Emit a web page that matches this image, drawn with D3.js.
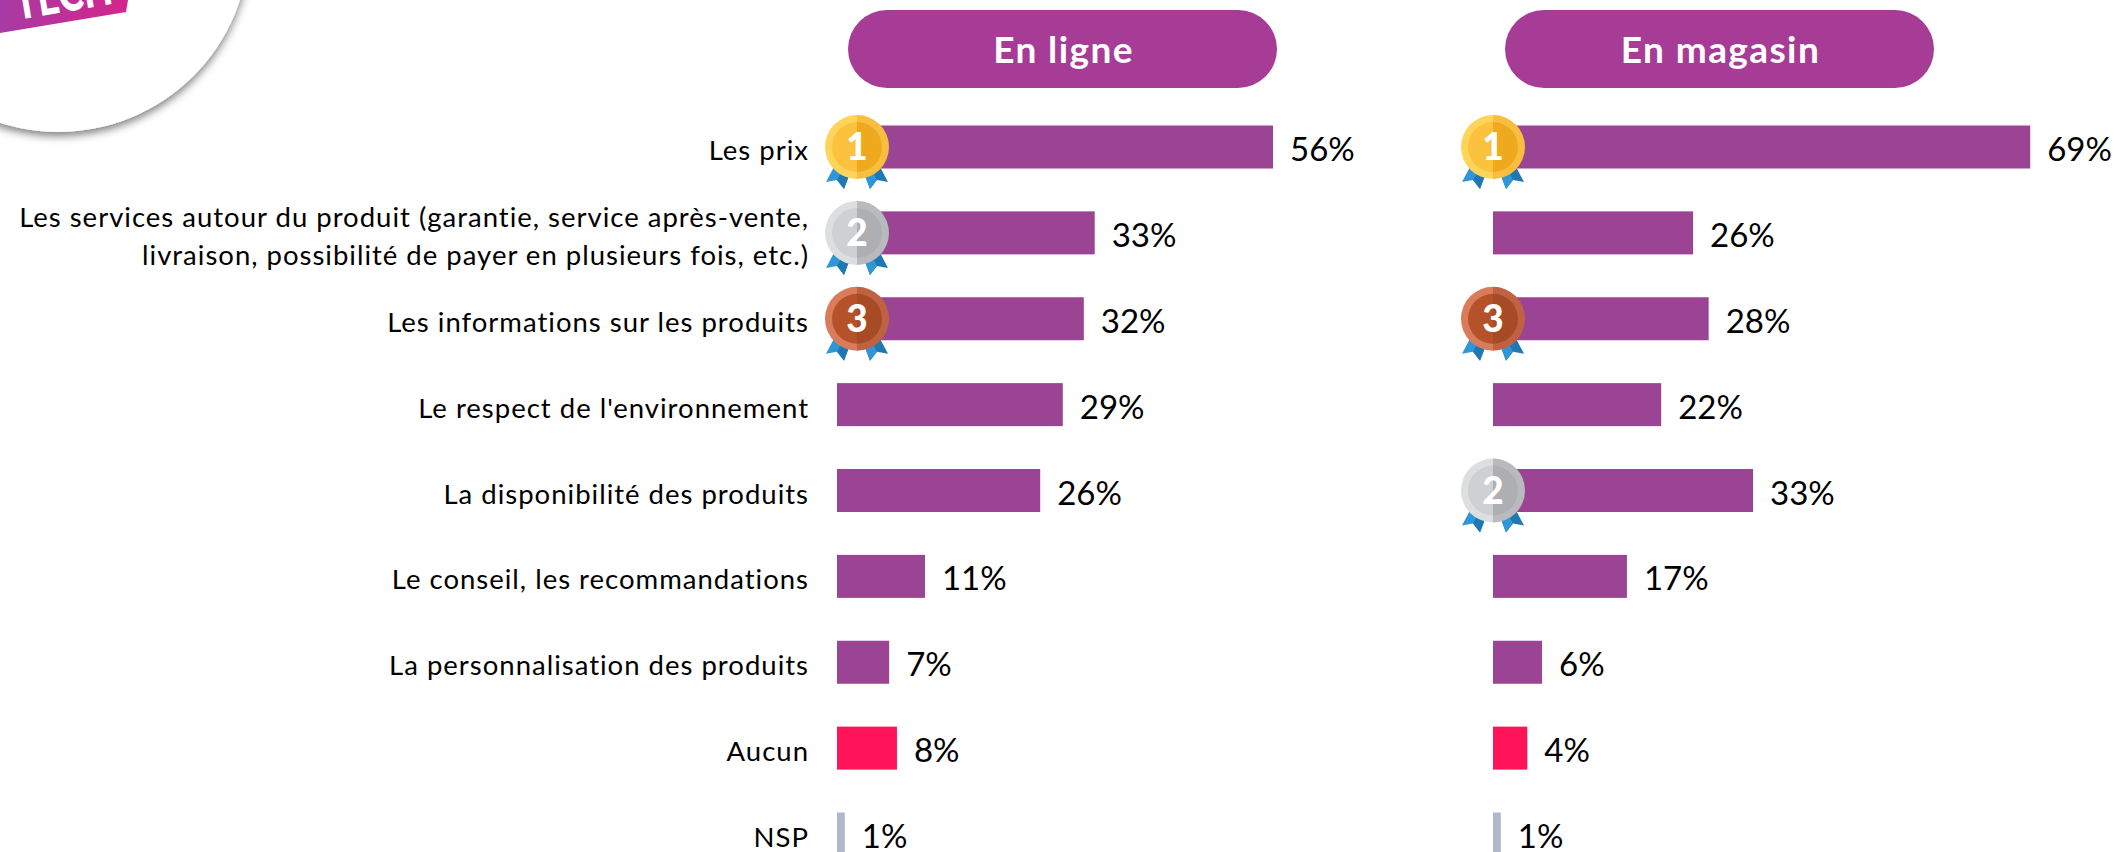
<!DOCTYPE html>
<html><head><meta charset="utf-8">
<script src="https://cdn.jsdelivr.net/npm/d3@7/dist/d3.min.js"></script>
<style>html,body{margin:0;padding:0;background:#fff;overflow:hidden}svg{display:block}text{font-family:Lato,sans-serif}</style>
</head><body><svg id="c" width="2121" height="852"></svg>
<script>
const categories=[["Les prix"],["Les services autour du produit (garantie, service après-vente,","livraison, possibilité de payer en plusieurs fois, etc.)"],["Les informations sur les produits"],["Le respect de l'environnement"],["La disponibilité des produits"],["Le conseil, les recommandations"],["La personnalisation des produits"],["Aucun"],["NSP"]];
const enLigneValues=[56,33.1,31.7,29,26.1,11.3,6.7,7.7,1];
const enLigneLabels=["56%","33%","32%","29%","26%","11%","7%","8%","1%"];
const enMagasinValues=[69,25.7,27.7,21.6,33.4,17.2,6.3,4.4,1];
const enMagasinLabels=["69%","26%","28%","22%","33%","17%","6%","4%","1%"];
const enLigneRanks=[1,2,3,0,0,0,0,0,0];
const enMagasinRanks=[1,0,3,0,2,0,0,0,0];
const barColors=["#9B4494","#9B4494","#9B4494","#9B4494","#9B4494","#9B4494","#9B4494","#FF145A","#ADB9CA"];
const medalColors={1:["#FFD45A","#F9BE3F","#FBC23D","#EFA91E"],2:["#DDDEE0","#B9BABD","#CFD0D2","#AEAFB2"],3:["#D97C5C","#BE6242","#B65229","#A74A26"]};

const svg=d3.select("#c");
const defs=svg.append("defs");
const f=defs.append("filter").attr("id","sh").attr("x","-20%").attr("y","-20%").attr("width","140%").attr("height","140%");
f.append("feDropShadow").attr("dx",0).attr("dy",4).attr("stdDeviation",4).attr("flood-color","#000").attr("flood-opacity",.5);
const g=defs.append("linearGradient").attr("id","lg");
g.append("stop").attr("offset","0").attr("stop-color","#A83AA6");
g.append("stop").attr("offset","1").attr("stop-color","#D5258A");

// logo
svg.append("circle").attr("cx",58).attr("cy",-59.5).attr("r",191.5).attr("fill","#fff").attr("filter","url(#sh)");
svg.append("path").attr("d",d3.line()([[0,33],[126,12],[130,-12],[0,-12]])).attr("fill","url(#lg)");
svg.append("text").attr("transform","translate(17,20) rotate(-9.5) scale(1,1.4)").attr("font-size",38).attr("font-weight",900).attr("fill","#fff").text("TECH");

const y=d3.scalePoint().domain(d3.range(categories.length)).range([147,834]);
const barH=43;

// categories
const catG=svg.append("g");
categories.forEach((lines,i)=>{
  const t=catG.append("text").attr("text-anchor","end").attr("font-size",27.5).attr("letter-spacing",1).attr("fill","#000");
  lines.forEach((l,j)=>t.append("tspan").attr("x",809).attr("y",y(i)+13+(lines.length>1?(j-.5)*38:0)).text(l));
});

function panel(title,x0,mx,pillX,values,labels,ranks){
  const x=d3.scaleLinear().domain([0,56]).range([x0,x0+436]);
  const pw=429,ph=78;
  svg.append("rect").attr("x",pillX).attr("y",10).attr("width",pw).attr("height",ph).attr("rx",39).attr("fill","#A73C97");
  svg.append("text").attr("x",pillX+pw/2+1).attr("y",63).attr("text-anchor","middle").attr("font-size",37).attr("font-weight",700).attr("fill","#fff").attr("letter-spacing",1.4).text(title);
  svg.append("g").selectAll("rect").data(values).join("rect")
    .attr("x",x0).attr("y",(d,i)=>y(i)-barH/2).attr("width",d=>x(d)-x0).attr("height",barH)
    .attr("fill",(d,i)=>barColors[i]);
  svg.append("g").selectAll("text").data(values).join("text")
    .attr("x",d=>x(d)+17).attr("y",(d,i)=>y(i)+14).attr("font-size",33).attr("fill","#000")
    .text((d,i)=>labels[i]);
  ranks.forEach((r,i)=>{
    if(!r)return;
    const c=medalColors[r],m=svg.append("g").attr("transform",`translate(${mx},${y(i)})`);
    [-1,1].forEach(s=>{
      m.append("path").attr("d",d3.line()([[s*7,26],[s*22,18],[s*31,35],[s*20,33],[s*13,42]])).attr("fill",s<0?"#2F97D8":"#1F78B4");
      m.append("path").attr("d",d3.line()([[s*7,26],[s*14,22],[s*20,33],[s*13,42]])).attr("fill",s<0?"#1F78B4":"#2F97D8");
    });
    const half=(R,col,dir)=>m.append("path").attr("d",`M0,${-R}A${R},${R} 0 0 ${dir>0?1:0} 0,${R}Z`).attr("fill",col);
    half(32,c[0],-1);half(32,c[1],1);half(25,c[2],-1);half(25,c[3],1);
    m.append("text").attr("y",13).attr("text-anchor","middle").attr("font-size",37).attr("font-weight",900).attr("fill","#fff").text(r);
  });
}
panel("En ligne",837,857,848,enLigneValues,enLigneLabels,enLigneRanks);
panel("En magasin",1493,1493,1505,enMagasinValues,enMagasinLabels,enMagasinRanks);
</script></body></html>
